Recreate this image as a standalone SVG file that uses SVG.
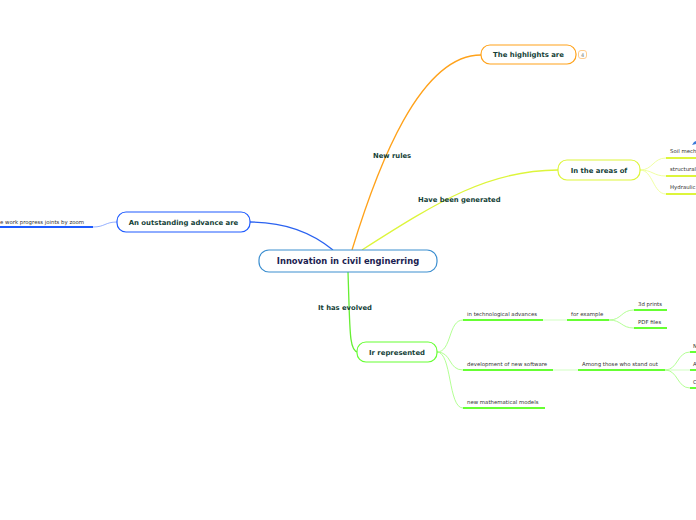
<svg xmlns="http://www.w3.org/2000/svg" width="696" height="520" viewBox="0 0 696 520">
<style>
.nodeRect{fill:#fff;stroke-width:1.2}
.lbl{font-family:"DejaVu Sans",Verdana,sans-serif;font-weight:bold;fill:#143f38}
.main{font-family:"DejaVu Sans",Verdana,sans-serif;font-weight:bold;fill:#1a2150;font-size:8.4px}
.sm{font-family:"DejaVu Sans",Verdana,sans-serif;fill:#333;font-size:5.4px}
.edge{fill:none;stroke-width:1.3}
.thin{fill:none;stroke-width:0.9}
.ul{fill:none;stroke-width:2}
</style>
<rect width="696" height="520" fill="#fff"/>
<g id="connectors">
  <path class="edge" d="M333,250 C310,231 282,222 250,222" stroke="#2a62f0"/>
  <path class="edge" d="M352,250 C378,165 420,55 481,55" stroke="#ffa21a"/>
  <path class="edge" d="M362,250 C440,200 490,170 558,170" stroke="#ddf53b"/>
  <path class="edge" d="M348,272 C350,330 349,352 358,352" stroke="#66ee33"/>
  <!-- left blue -->
  <path class="thin" d="M117,222 C105,222 105,227 93,227" stroke="#8aa8ff"/>
  <path class="ul" d="M0,227 H93" stroke="#1e5bff"/>
  <!-- areas -->
  <path class="thin" d="M640,170 C653,170 653,158 666,158" stroke="#eeff99"/>
  <path class="thin" d="M640,170 C653,170 653,176 666,176" stroke="#eeff99"/>
  <path class="thin" d="M640,170 C653,170 653,194 666,194" stroke="#eeff99"/>
  <path class="ul" d="M666,158 H696 M666,176 H696 M666,194 H696" stroke="#ddf53b"/>
  <!-- Ir represented -->
  <path class="thin" d="M437,352 C452,352 448,320 463,320" stroke="#aaff88"/>
  <path class="thin" d="M437,352 C452,352 448,370 463,370" stroke="#aaff88"/>
  <path class="thin" d="M437,352 C452,352 448,408 463,408" stroke="#aaff88"/>
  <path class="ul" d="M463,320 H543 M463,370 H553 M463,408 H545" stroke="#66ff33"/>
  <path class="thin" d="M543,320 H567 M553,370 H578" stroke="#ccffbb"/>
  <path class="ul" d="M567,320 H609 M578,370 H665" stroke="#66ff33"/>
  <path class="thin" d="M609,320 C622,320 621,310 634,310" stroke="#aaff88"/>
  <path class="thin" d="M609,320 C622,320 621,328 634,328" stroke="#aaff88"/>
  <path class="ul" d="M634,310 H667 M634,328 H667" stroke="#66ff33"/>
  <path class="thin" d="M665,370 C678,370 677,352 690,352" stroke="#aaff88"/>
  <path class="thin" d="M665,370 H690" stroke="#ccffbb"/>
  <path class="thin" d="M665,370 C678,370 677,388 690,388" stroke="#aaff88"/>
  <path class="ul" d="M690,352 H696 M690,370 H696 M690,388 H696" stroke="#66ff33"/>
  <text class="lbl" x="373" y="158" font-size="6.8">New rules</text>
  <text class="lbl" x="418" y="202" font-size="6.8">Have been generated</text>
  <text class="lbl" x="318" y="310" font-size="6.8">It has evolved</text>
</g>
<g id="central">
  <rect class="nodeRect" x="259" y="250" width="178" height="22" rx="10" stroke="#3d8fd0"/>
  <text class="main" x="348" y="264" text-anchor="middle">Innovation in civil enginerring</text>
</g>
<g id="outstanding">
  <rect class="nodeRect" x="117" y="212" width="133" height="20" rx="9" stroke="#1e5bff"/>
  <text class="lbl" x="183.5" y="224.5" font-size="6.9" text-anchor="middle">An outstanding advance are</text>
</g>
<g id="zoom">
  <text class="sm" x="0" y="224">e work progress joints by zoom</text>
</g>
<g id="highlights">
  <rect class="nodeRect" x="481" y="45" width="95" height="19" rx="9" stroke="#ffa21a"/>
  <text class="lbl" x="528.5" y="57" font-size="6.9" text-anchor="middle">The highlights are</text>
  <rect x="578.5" y="50.5" width="8" height="8" rx="2.5" fill="#fff" stroke="#ffc070" stroke-width="0.8"/>
  <text x="582.5" y="56.5" font-family="DejaVu Sans,sans-serif" font-size="5" fill="#777" text-anchor="middle">4</text>
</g>
<g id="areas">
  <rect class="nodeRect" x="558" y="160" width="82" height="20" rx="9" stroke="#ddf53b"/>
  <text class="lbl" x="599" y="172.5" font-size="6.9" text-anchor="middle">In the areas of</text>
</g>
<g id="soil">
  <path d="M692,145 L694,142 L696,141 L696,144 Z" fill="#3a7ad8"/>
  <text class="sm" x="670" y="153">Soil mechanics</text>
</g>
<g id="structural"><text class="sm" x="670" y="171">structural</text></g>
<g id="hydraulic"><text class="sm" x="670" y="189">Hydraulic</text></g>
<g id="represented">
  <rect class="nodeRect" x="357" y="342" width="80" height="20" rx="9" stroke="#66ff33"/>
  <text class="lbl" x="397" y="354.5" font-size="6.9" text-anchor="middle">Ir represented</text>
</g>
<g id="tech"><text class="sm" x="467" y="316">in technological advances</text></g>
<g id="example"><text class="sm" x="571" y="316">for example</text></g>
<g id="prints"><text class="sm" x="638" y="306">3d prints</text></g>
<g id="pdf"><text class="sm" x="638" y="324">PDF files</text></g>
<g id="software"><text class="sm" x="467" y="366">development of new software</text></g>
<g id="among"><text class="sm" x="582" y="366">Among those who stand out</text></g>
<g id="n1"><text class="sm" x="693" y="348">N</text></g>
<g id="a1"><text class="sm" x="693" y="366">A</text></g>
<g id="c1"><text class="sm" x="693" y="384">C</text></g>
<g id="math"><text class="sm" x="467" y="404">new mathematical models</text></g>
</svg>
